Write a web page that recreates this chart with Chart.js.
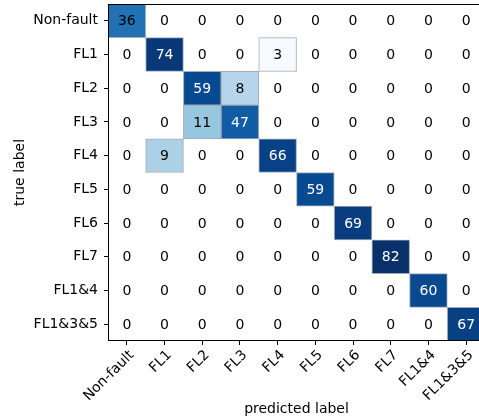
<!DOCTYPE html>
<html lang="en">
<head>
  <meta charset="UTF-8">
  <title>Confusion matrix</title>
  <script src="https://cdn.jsdelivr.net/npm/chart.js"></script>
  <style>
    html, body { margin: 0; padding: 0; background: #fff; overflow: hidden; }
    #wrap { width: 479px; height: 419px; overflow: hidden; }
  </style>
</head>
<body>
  <div id="wrap"><canvas id="cm" width="487" height="419"></canvas></div>

  <script>
    const classLabels = ['Non-fault', 'FL1', 'FL2', 'FL3', 'FL4', 'FL5', 'FL6', 'FL7', 'FL1&4', 'FL1&3&5'];

    // rows = true label, columns = predicted label
    const rowNonFault = [36, 0, 0, 0, 0, 0, 0, 0, 0, 0];
    const rowFL1      = [0, 74, 0, 0, 3, 0, 0, 0, 0, 0];
    const rowFL2      = [0, 0, 59, 8, 0, 0, 0, 0, 0, 0];
    const rowFL3      = [0, 0, 11, 47, 0, 0, 0, 0, 0, 0];
    const rowFL4      = [0, 9, 0, 0, 66, 0, 0, 0, 0, 0];
    const rowFL5      = [0, 0, 0, 0, 0, 59, 0, 0, 0, 0];
    const rowFL6      = [0, 0, 0, 0, 0, 0, 69, 0, 0, 0];
    const rowFL7      = [0, 0, 0, 0, 0, 0, 0, 82, 0, 0];
    const rowFL14     = [0, 0, 0, 0, 0, 0, 0, 0, 60, 0];
    const rowFL135    = [0, 0, 0, 0, 0, 0, 0, 0, 0, 67];

    const counts = [rowNonFault, rowFL1, rowFL2, rowFL3, rowFL4, rowFL5, rowFL6, rowFL7, rowFL14, rowFL135];

    // Blues colormap, log scaled between smallest and largest non-zero count
    const blueStops = ['#f7fbff', '#deebf7', '#c6dbef', '#9ecae1', '#6baed6', '#4292c6', '#2171b5', '#08519c', '#08306b'];
    const nonZero = counts.flat().filter(v => v > 0);
    const vMin = Math.min(...nonZero);
    const vMax = Math.max(...nonZero);
    const textThreshold = vMax / 2;

    function hexToRgb(h) {
      return [1, 3, 5].map(i => parseInt(h.slice(i, i + 2), 16));
    }

    function blues(t) {
      t = Math.max(0, Math.min(1, t));
      const pos = t * (blueStops.length - 1);
      const i = Math.min(Math.floor(pos), blueStops.length - 2);
      const f = pos - i;
      const a = hexToRgb(blueStops[i]);
      const b = hexToRgb(blueStops[i + 1]);
      const c = a.map((v, k) => Math.round(v + (b[k] - v) * f));
      return `rgb(${c[0]}, ${c[1]}, ${c[2]})`;
    }

    function cellColor(v) {
      if (v === 0) return '#ffffff';
      return blues(Math.log(v / vMin) / Math.log(vMax / vMin));
    }

    Chart.defaults.font.family = '"DejaVu Sans", sans-serif';
    Chart.defaults.font.size = 14;
    Chart.defaults.color = '#000';

    const datasets = counts.map((row, i) => ({
      label: classLabels[i],
      data: row.map(() => [i - 0.5, i + 0.5]),
      backgroundColor: row.map(cellColor),
      borderColor: row.map(v => v ? 'rgba(140, 150, 165, 0.8)' : 'rgba(0,0,0,0)'),
      borderWidth: 1,
      borderSkipped: false,
      grouped: false,
      barPercentage: 1,
      categoryPercentage: 1
    }));

    const cellText = {
      id: 'cellText',
      afterDatasetsDraw(chart) {
        const { ctx, scales: { x, y }, chartArea } = chart;
        ctx.save();
        ctx.font = '14px "DejaVu Sans"';
        ctx.textAlign = 'center';
        ctx.textBaseline = 'middle';
        counts.forEach((row, i) => {
          row.forEach((v, j) => {
            ctx.fillStyle = v > textThreshold ? '#ffffff' : '#000000';
            ctx.fillText(String(v), x.getPixelForValue(j), y.getPixelForValue(i) + 1);
          });
        });
        ctx.strokeStyle = '#000';
        ctx.lineWidth = 1;
        ctx.strokeRect(chartArea.left + 0.5, chartArea.top + 0.5,
          chartArea.right - chartArea.left - 1, chartArea.bottom - chartArea.top - 1);
        ctx.restore();
      }
    };

    new Chart(document.getElementById('cm'), {
      type: 'bar',
      data: { labels: classLabels, datasets: datasets },
      plugins: [cellText],
      options: {
        responsive: false,
        animation: false,
        layout: { padding: { top: 4, right: 2, left: 0, bottom: 0 } },
        plugins: { legend: { display: false }, tooltip: { enabled: false } },
        scales: {
          x: {
            type: 'category',
            offset: true,
            border: { display: false },
            grid: { drawOnChartArea: false, drawTicks: true, tickLength: 4, offset: false, tickColor: '#000' },
            ticks: { autoSkip: false, maxRotation: 45, minRotation: 45, padding: 2, labelOffset: 5 },
            title: { display: true, text: 'predicted label', padding: { top: 0, bottom: 1 } },
            afterFit(s) { s.height = 78; s.paddingLeft = 0; s.paddingRight = 0; }
          },
          y: {
            type: 'linear',
            reverse: true,
            min: -0.5,
            max: 9.5,
            border: { display: false },
            grid: { drawOnChartArea: false, drawTicks: true, tickLength: 4, tickColor: '#000' },
            afterBuildTicks(s) { s.ticks = classLabels.map((_, i) => ({ value: i })); },
            ticks: { autoSkip: false, padding: 6, callback: v => classLabels[v] },
            title: { display: true, text: 'true label', padding: { top: 12, bottom: 0 } },
            afterFit(s) { s.width = 108; s.paddingTop = 0; s.paddingBottom = 0; }
          }
        }
      }
    });
  </script>
</body>
</html>
